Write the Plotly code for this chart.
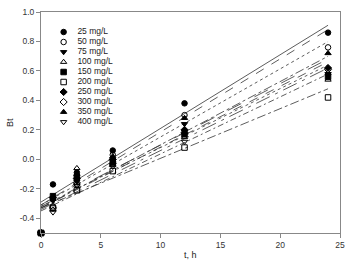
import plotly.graph_objects as go

# ---- data ----
times = [0, 1, 3, 6, 12, 24]
labels = ["25 mg/L", "50 mg/L", "75 mg/L", "100 mg/L", "150 mg/L",
          "200 mg/L", "250 mg/L", "300 mg/L", "350 mg/L", "400 mg/L"]
bt_25 = [-0.5, -0.17, -0.09, 0.06, 0.38, 0.86]
bt_50 = [-0.5, -0.32, -0.17, 0.03, 0.30, 0.76]
bt_75 = [-0.5, -0.28, -0.15, -0.01, 0.24, 0.58]
bt_100 = [-0.5, -0.34, -0.06, -0.04, 0.15, 0.54]
bt_150 = [-0.5, -0.25, -0.12, -0.02, 0.17, 0.56]
bt_200 = [-0.5, -0.33, -0.21, -0.08, 0.08, 0.42]
bt_250 = [-0.5, -0.26, -0.13, 0.00, 0.20, 0.62]
bt_300 = [-0.5, -0.33, -0.16, -0.03, 0.18, 0.61]
bt_350 = [-0.5, -0.27, -0.10, 0.02, 0.28, 0.72]
bt_400 = [-0.5, -0.36, -0.18, -0.05, 0.12, 0.57]
series = [bt_25, bt_50, bt_75, bt_100, bt_150, bt_200, bt_250, bt_300, bt_350, bt_400]

# linear fit lines (intercept, slope)
fit_intercepts = [-0.29, -0.31, -0.33, -0.34, -0.32, -0.33, -0.32, -0.33, -0.31, -0.35]
fit_slopes = [0.050, 0.0496, 0.0429, 0.040, 0.040, 0.0337, 0.0417, 0.0413, 0.0462, 0.0387]
fit_range = [0, 24]

y_tickvals = [-0.4, -0.2, 0.0, 0.2, 0.4, 0.6, 0.8, 1.0]
y_ticktext = ["-0.4", "-0.2", "0.0", "0.2", "0.4", "0.6", "0.8", "1.0"]
x_tickvals = [0, 5, 10, 15, 20, 25]

# ---- styles ----
symbols = ["circle", "circle-open", "triangle-down", "triangle-up-open", "square",
           "square-open", "diamond", "diamond-open", "triangle-up", "triangle-down-open"]
dashes = ["solid", "dash", "dashdot", "longdashdot", "dot",
          "dashdot", "longdash", "dash", "dot", "6px,3px,2px,3px"]
FONT = "Liberation Sans, Arial, sans-serif"

fig = go.Figure()

for i, ys in enumerate(series):
    b, m = fit_intercepts[i], fit_slopes[i]
    fig.add_trace(go.Scatter(
        x=fit_range, y=[b + m * t for t in fit_range], mode="lines",
        line=dict(color="#333", width=0.8, dash=dashes[i]),
        showlegend=False, hoverinfo="skip"))

for i, ys in enumerate(series):
    fig.add_trace(go.Scatter(
        x=times, y=ys, mode="markers", cliponaxis=False,
        marker=dict(symbol=symbols[i], size=5.5,
                    color="black", line=dict(color="black", width=1)),
        showlegend=False))

# manual legend in pixel coordinates of an overlay axis
leg_x_marker = 64
leg_x_text = 78
leg_y0 = 32
leg_dy = 10
fig.add_trace(go.Scatter(
    x=[leg_x_marker] * len(labels),
    y=[leg_y0 + leg_dy * i for i in range(len(labels))],
    mode="markers", xaxis="x2", yaxis="y2", cliponaxis=False,
    marker=dict(symbol=symbols, size=5.5, color="black", line=dict(color="black", width=1)),
    showlegend=False, hoverinfo="skip"))
fig.add_trace(go.Scatter(
    x=[leg_x_text] * len(labels),
    y=[leg_y0 + leg_dy * i for i in range(len(labels))],
    mode="text", text=labels, textposition="middle right",
    textfont=dict(family=FONT, size=8.5, color="#222"),
    xaxis="x2", yaxis="y2", cliponaxis=False,
    showlegend=False, hoverinfo="skip"))

axis_common = dict(showgrid=False, zeroline=False, showline=True, linecolor="#888",
                   linewidth=1, mirror=True, ticks="outside", ticklen=4,
                   tickcolor="#888", tickfont=dict(family=FONT, size=8.5, color="#333"))

fig.update_layout(
    width=350, height=263,
    margin=dict(l=41, r=5, t=12, b=30),
    paper_bgcolor="white", plot_bgcolor="white",
    xaxis=dict(range=[0, 25], tickvals=x_tickvals, **axis_common),
    yaxis=dict(range=[-0.5, 1.0], tickvals=y_tickvals, ticktext=y_ticktext, **axis_common),
    xaxis2=dict(range=[41, 345], overlaying="x", visible=False, domain=[0, 1]),
    yaxis2=dict(range=[233, 12], overlaying="y", visible=False, domain=[0, 1]),
    showlegend=False,
    annotations=[
        dict(text="Bt", xref="paper", yref="paper", x=-0.105, y=0.5,
             xanchor="center", yanchor="middle", textangle=-90, showarrow=False,
             font=dict(family=FONT, size=9, color="#222")),
        dict(text="t, h", xref="paper", yref="paper", x=0.5, y=-0.133,
             xanchor="center", yanchor="bottom", showarrow=False,
             font=dict(family=FONT, size=9, color="#222")),
    ],
)

fig.write_html("out.html")
